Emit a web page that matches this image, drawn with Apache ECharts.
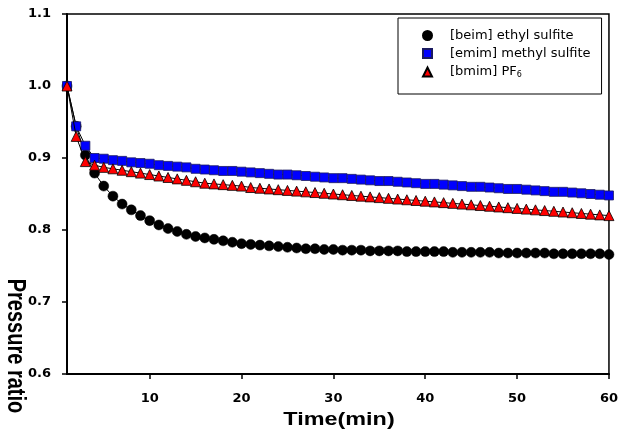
<!DOCTYPE html>
<html>
<head>
<meta charset="utf-8">
<script src="https://cdn.jsdelivr.net/npm/echarts@6/dist/echarts.min.js"></script>
<style>html,body{margin:0;padding:0;background:#fff;}#c{width:621px;height:444px;}</style>
</head>
<body>
<div id="c"></div>
<script>
var times = [];
for (var i = 1; i <= 60; i++) times.push(i);

var beimEthylSulfite = [1.000,0.944,0.904,0.879,0.861,0.847,0.836,0.828,0.820,0.813,
  0.807,0.802,0.798,0.794,0.791,0.789,0.787,0.785,0.783,0.781,
  0.780,0.779,0.778,0.777,0.776,0.775,0.774,0.774,0.773,0.773,
  0.772,0.772,0.772,0.771,0.771,0.771,0.771,0.770,0.770,0.770,
  0.770,0.770,0.769,0.769,0.769,0.769,0.769,0.768,0.768,0.768,
  0.768,0.768,0.768,0.767,0.767,0.767,0.767,0.767,0.767,0.766];

var emimMethylSulfite = [1.000,0.944,0.917,0.900,0.899,0.897,0.896,0.894,0.893,0.892,
  0.890,0.889,0.888,0.887,0.885,0.884,0.883,0.882,0.882,0.881,
  0.880,0.879,0.878,0.877,0.877,0.876,0.875,0.874,0.873,0.872,
  0.872,0.871,0.870,0.869,0.868,0.868,0.867,0.866,0.865,0.864,
  0.864,0.863,0.862,0.861,0.860,0.860,0.859,0.858,0.857,0.857,
  0.856,0.855,0.854,0.853,0.853,0.852,0.851,0.850,0.849,0.848];

var bmimPF6 = [1.000,0.930,0.895,0.890,0.887,0.885,0.883,0.881,0.879,0.877,
  0.875,0.873,0.871,0.869,0.867,0.865,0.864,0.863,0.862,0.861,
  0.859,0.858,0.857,0.856,0.855,0.854,0.853,0.852,0.851,0.850,
  0.849,0.848,0.847,0.846,0.845,0.844,0.843,0.842,0.841,0.840,
  0.839,0.838,0.837,0.836,0.835,0.834,0.833,0.832,0.831,0.830,
  0.829,0.828,0.827,0.826,0.825,0.824,0.823,0.822,0.821,0.820];

var xTicks = [10, 20, 30, 40, 50, 60];
var seriesNames = ['[beim] ethyl sulfite', '[emim] methyl sulfite', '[bmim] PF6'];
var xTitle = 'Time(min)';
var yTitle = 'Pressure ratio';

function pairs(arr) { return arr.map(function (v, i) { return [times[i], v]; }); }

var chart = echarts.init(document.getElementById('c'), null, { renderer: 'canvas' });
var labelFont = 'DejaVu Sans';
chart.setOption({
  animation: false,
  backgroundColor: '#fff',
  grid: { left: 67, right: 11, top: 14, bottom: 70, show: true, borderColor: '#000', borderWidth: 1.5, backgroundColor: 'transparent' },
  xAxis: {
    type: 'value', min: 1, max: 60,
    axisLine: { lineStyle: { color: '#000', width: 2 } },
    axisTick: { show: true, length: 5, lineStyle: { color: '#000', width: 1.5 }, customValues: xTicks },
    axisLabel: { customValues: xTicks, color: '#000', fontFamily: labelFont, fontWeight: 'bold', fontSize: 13, margin: 18 },
    splitLine: { show: false }
  },
  yAxis: {
    type: 'value', min: 0.6, max: 1.1, interval: 0.1,
    axisLine: { show: true, lineStyle: { color: '#000', width: 2 } },
    axisTick: { show: true, length: 5, lineStyle: { color: '#000', width: 1.5 } },
    axisLabel: { color: '#000', fontFamily: labelFont, fontWeight: 'bold', fontSize: 13, margin: 16,
      formatter: function (v) { return v.toFixed(1); } },
    splitLine: { show: false }
  },
  legend: {
    orient: 'vertical', left: 398, top: 18,
    padding: [11, 11, 15, 24],
    itemWidth: 9, itemHeight: 9, itemGap: 5,
    borderColor: '#000', borderWidth: 1, backgroundColor: '#fff',
    data: [
      { name: seriesNames[0], icon: 'circle' },
      { name: seriesNames[1], icon: 'rect' },
      { name: seriesNames[2], icon: 'triangle' }
    ],
    formatter: function (n) {
      if (n === seriesNames[2]) return '{a|[bmim] PF}{s|6}';
      return '{a|' + n + '}';
    },
    textStyle: {
      rich: {
        a: { fontFamily: 'DejaVu Sans', fontSize: 13, color: '#000', padding: [0, 0, 0, 13], lineHeight: 14 },
        s: { fontFamily: 'DejaVu Sans', fontSize: 8, color: '#000', verticalAlign: 'bottom', lineHeight: 14, padding: [6, 0, 0, 0] }
      }
    }
  },
  graphic: [
    { type: 'text', x: 339, y: 420, scaleX: 1.3, style: { text: xTitle, font: 'bold 18px Arial', fill: '#000', textAlign: 'center', textVerticalAlign: 'middle' } },
    { type: 'text', x: 15, y: 346, rotation: -Math.PI / 2, scaleY: 1.3, style: { text: yTitle, font: 'bold 20px Arial', fill: '#000', textAlign: 'center', textVerticalAlign: 'middle' } }
  ],
  series: [
    { name: seriesNames[0], type: 'line', data: pairs(beimEthylSulfite), symbol: 'circle', symbolSize: 10,
      lineStyle: { color: '#000', width: 1 }, itemStyle: { color: '#000', borderColor: '#000', borderWidth: 0.5 }, z: 2 },
    { name: seriesNames[1], type: 'line', data: pairs(emimMethylSulfite), symbol: 'rect', symbolSize: 9,
      lineStyle: { color: '#000', width: 1 }, itemStyle: { color: '#0000ff', borderColor: '#1a1a60', borderWidth: 0.8 }, z: 3 },
    { name: seriesNames[2], type: 'line', data: pairs(bmimPF6), symbol: 'triangle', symbolSize: 10,
      lineStyle: { color: '#000', width: 1 }, itemStyle: { color: '#ff0000', borderColor: '#000', borderWidth: 0.8 }, z: 4 }
  ]
});
</script>
</body>
</html>
